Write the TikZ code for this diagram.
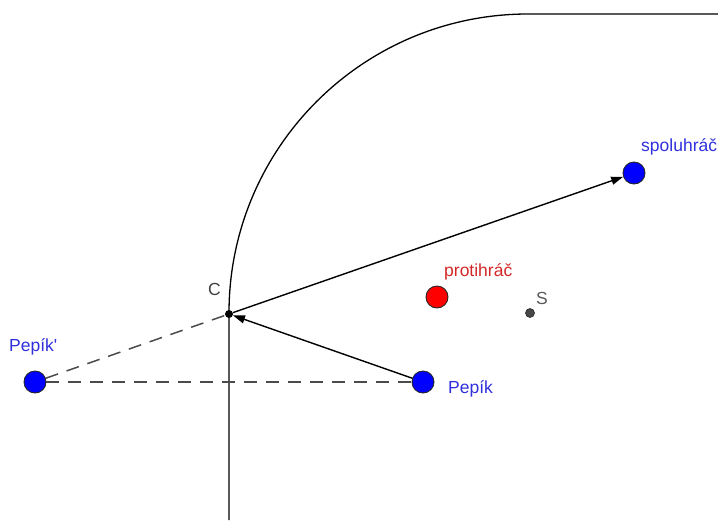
\documentclass[tikz,border=0pt]{standalone}
\usepackage{fontspec}
\setmainfont{Liberation Sans}
\usetikzlibrary{arrows.meta}
\definecolor{hracblue}{RGB}{0,0,255}
\definecolor{popisblue}{RGB}{48,48,220}
\definecolor{popisred}{RGB}{210,40,40}
\definecolor{carkagray}{RGB}{75,75,75}
\begin{document}
\begin{tikzpicture}[x=1pt,y=-1pt,
  every node/.style={font=\fontsize{17.5}{20}\selectfont,inner sep=0pt},
  hrac/.style={circle,draw=black!85,line width=0.9pt,minimum size=22pt,fill=#1},
  bod/.style={circle,fill=#1,minimum size=8pt},
  popis/.style={anchor=base west,text=#1},
  sipka/.style={line width=1.4pt,-{Triangle[length=12pt,width=8pt]}},
  carkovane/.style={carkagray,line width=1.5pt,dash pattern=on 13pt off 9pt}]
\useasboundingbox (0,0) rectangle (718,520);
% mantinel
\draw[line width=1.3pt] (229,520) -- (229,313)
  arc[start angle=180,end angle=270,radius=299] -- (720,14);
% hraci a body
\node[bod=black] (C) at (229,314) {};
\node[hrac=hracblue] (pepik) at (423,382) {};
\node[hrac=hracblue] (pepik2) at (35,382) {};
\node[hrac=hracblue] (spoluhrac) at (634,173) {};
\node[hrac=red] (protihrac) at (437,297) {};
\node[bod=black!72,draw=black!85,line width=0.6pt,minimum size=9pt] (S) at (530,313) {};
% odraz
\draw[carkovane] (pepik2) -- (C);
\draw[carkovane] (pepik2) -- (pepik);
\draw[sipka] (pepik) -- (C);
\draw[sipka] (C) -- (spoluhrac);
% popisky
\node[popis=popisblue] (spoluhrac-popis) at (641,151.5) {spoluhráč};
\node[popis=popisred] (protihrac-popis) at (444,276.7) {protihráč};
\node[popis=black!65] (S-popis) at (536,304) {S};
\node[popis=black!75] (C-popis) at (208,295) {C};
\node[popis=popisblue] (pepik-popis) at (448,393) {Pepík};
\node[popis=popisblue] (pepik2-popis) at (9,351) {Pepík\textquotesingle};
\end{tikzpicture}
\end{document}
